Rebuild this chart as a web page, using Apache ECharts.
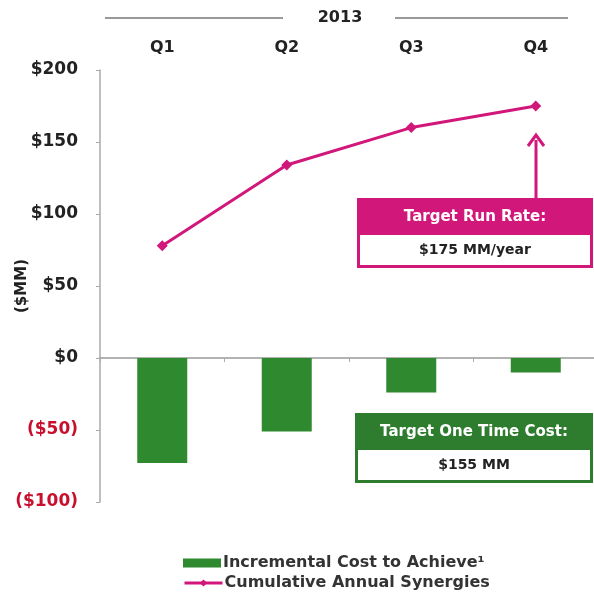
<!DOCTYPE html>
<html>
<head>
<meta charset="utf-8">
<script src="https://cdn.jsdelivr.net/npm/echarts@6/dist/echarts.min.js"></script>
<style>
  html, body { margin: 0; padding: 0; background: #fff; }
  #main { width: 594px; height: 599px; }
</style>
</head>
<body>
<div id="main"></div>
<script>
// data
var quarters = ['Q1', 'Q2', 'Q3', 'Q4']
var costToAchieve = [-73, -51, -24, -10]
var cumulativeSynergies = [78, 134, 160, 175]
var yTicks = [-100, -50, 0, 50, 100, 150, 200]

var pink = '#d2177a'
var green = '#2f8a2f'
var font = 'DejaVu Sans'

var chart = echarts.init(document.getElementById('main'))

function fmtMoney (v) {
  if (v < 0) return '{neg|($' + (-v) + ')}'
  return '$' + v
}

var legendText = { fontFamily: font, fontSize: 16, fontWeight: 'bold', color: '#333', padding: [0, 0, 0, -3] }

var option = {
  animation: false,
  backgroundColor: '#fff',
  textStyle: { fontFamily: font },
  grid: { left: 100, top: 70, width: 498, height: 432, containLabel: false, outerBoundsMode: 'none' },
  legend: [{
    left: 178,
    top: 550,
    itemWidth: 38,
    itemHeight: 9,
    textStyle: legendText,
    data: [{ name: 'Incremental Cost to Achieve¹', icon: 'rect' }]
  }, {
    left: 178,
    top: 570,
    itemWidth: 38,
    itemHeight: 9,
    textStyle: legendText,
    lineStyle: { width: 3 },
    data: [{ name: 'Cumulative Annual Synergies' }]
  }],
  xAxis: [{
    type: 'category',
    data: quarters,
    position: 'bottom',
    axisLine: { onZero: true, lineStyle: { color: '#999', width: 1.5 } },
    axisTick: { show: true, length: 4, lineStyle: { color: '#aaa' } },
    axisLabel: { show: false }
  }, {
    type: 'category',
    data: quarters,
    position: 'top',
    axisLine: { show: false },
    axisTick: { show: false },
    axisLabel: { margin: 14, fontFamily: font, fontSize: 16, fontWeight: 'bold', color: '#222' }
  }],
  yAxis: {
    type: 'value',
    min: -100,
    max: 200,
    interval: 50,
    name: '($MM)',
    nameLocation: 'middle',
    nameGap: 70,
    nameMoveOverlap: false,
    nameTextStyle: { fontFamily: font, fontSize: 15, fontWeight: 'bold', color: '#222' },
    axisLine: { show: true, lineStyle: { color: '#aaa', width: 1.5 } },
    axisTick: { show: true, length: 4, lineStyle: { color: '#aaa' } },
    splitLine: { show: false },
    axisLabel: {
      margin: 22,
      fontFamily: font,
      fontSize: 17,
      fontWeight: 'bold',
      color: '#222',
      formatter: fmtMoney,
      rich: { neg: { fontFamily: font, fontSize: 17, fontWeight: 'bold', color: '#c8102e' } }
    }
  },
  series: [{
    name: 'Incremental Cost to Achieve¹',
    type: 'bar',
    data: costToAchieve,
    barWidth: 50,
    itemStyle: { color: green }
  }, {
    name: 'Cumulative Annual Synergies',
    type: 'line',
    data: cumulativeSynergies,
    symbol: 'diamond',
    symbolSize: 11,
    lineStyle: { color: pink, width: 3 },
    itemStyle: { color: pink }
  }]
}

chart.setOption(option)

// annotation layer: header, arrow and the two target boxes
var tip = chart.convertToPixel({ seriesIndex: 1 }, [3, cumulativeSynergies[3]])
var ax = Math.round(tip[0])

function box (x, y, w, h, color, title, value) {
  return {
    type: 'group',
    children: [
      { type: 'rect', shape: { x: x, y: y, width: w, height: h }, style: { fill: color } },
      { type: 'rect', shape: { x: x + 3, y: y + 37, width: w - 6, height: h - 40 }, style: { fill: '#fff' } },
      { type: 'text', x: x + w / 2, y: y + 19, style: { text: title, fill: '#fff', font: 'bold 15px "DejaVu Sans"', align: 'center', verticalAlign: 'middle' } },
      { type: 'text', x: x + w / 2, y: y + 37 + (h - 40) / 2, style: { text: value, fill: '#222', font: 'bold 14px "DejaVu Sans"', align: 'center', verticalAlign: 'middle' } }
    ]
  }
}

chart.setOption({
  graphic: [
    { type: 'line', shape: { x1: 105, y1: 18, x2: 283, y2: 18 }, style: { stroke: '#999', lineWidth: 2 } },
    { type: 'line', shape: { x1: 395, y1: 18, x2: 568, y2: 18 }, style: { stroke: '#999', lineWidth: 2 } },
    { type: 'text', x: 340, y: 18, style: { text: '2013', fill: '#222', font: 'bold 16px "DejaVu Sans"', align: 'center', verticalAlign: 'middle' } },
    { type: 'line', shape: { x1: ax, y1: tip[1] + 34, x2: ax, y2: 198 }, style: { stroke: pink, lineWidth: 3 } },
    { type: 'polyline', shape: { points: [[ax - 8, tip[1] + 40], [ax, tip[1] + 29], [ax + 8, tip[1] + 40]] }, style: { stroke: pink, lineWidth: 3, fill: null } },
    box(357, 198, 236, 70, pink, 'Target Run Rate:', '$175 MM/year'),
    box(355, 413, 238, 70, '#2e7d2e', 'Target One Time Cost:', '$155 MM')
  ]
})

window.addEventListener('resize', function () {
  chart.resize()
})
</script>
</body>
</html>
